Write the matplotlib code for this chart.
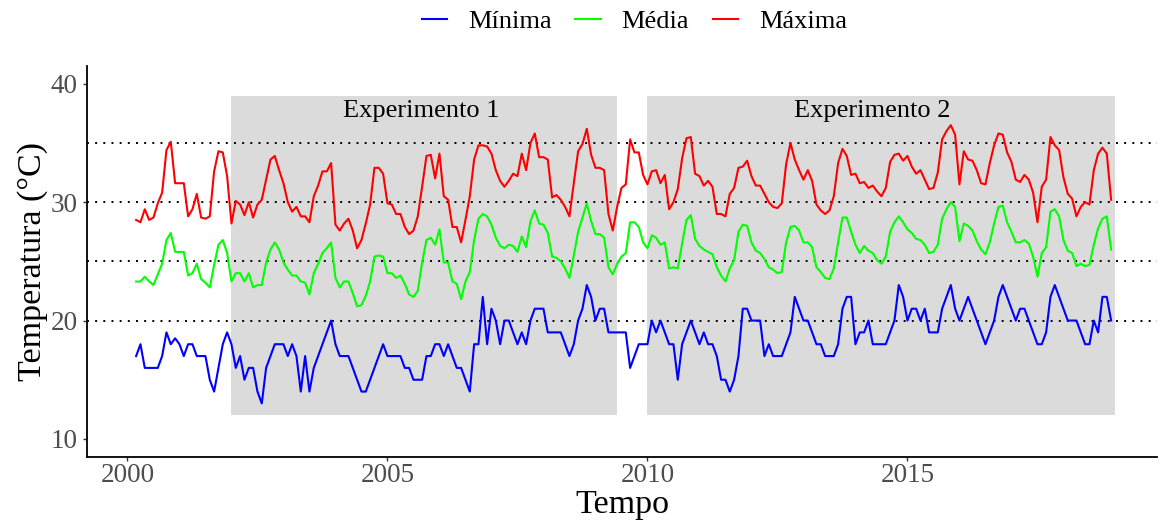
import pandas as pd
import matplotlib
matplotlib.use("Agg")
import matplotlib.pyplot as plt
from matplotlib.patches import Rectangle

# Monthly series, March 2000 to December 2018
datas = pd.date_range("2000-03-01", "2018-12-01", freq="MS")

minima = [
    17, 18, 16, 16, 16, 16, 17, 19, 18, 18.5, 18, 17, 18, 18, 17, 17, 17, 15, 14, 16,
    18, 19, 18, 16, 17, 15, 16, 16, 14, 13, 16, 17, 18, 18, 18, 17, 18, 17, 14,
    17, 14, 16, 17, 18, 19, 20, 18, 17, 17, 17, 16, 15, 14, 14, 15, 16, 17, 18, 17,
    17, 17, 17, 16, 16, 15, 15, 15, 17, 17, 18, 18, 17, 18, 17, 16, 16, 15, 14,
    18, 18, 22, 18, 21, 20, 18, 20, 20, 19, 18, 19, 18, 20, 21, 21, 21, 19, 19, 19,
    19, 18, 17, 18, 20, 21, 23, 22, 20, 21, 21, 19, 19, 19, 19, 19, 16, 17, 18,
    18, 18, 20, 19, 20, 19, 18, 18, 15, 18, 19, 20, 19, 18, 19, 18, 18, 17, 15, 15,
    14, 15, 17, 21, 21, 20, 20, 20, 17, 18, 17, 17, 17, 18, 19, 22, 21,
    20, 20, 19, 18, 18, 17, 17, 17, 18, 21, 22, 22, 18, 19, 19, 20, 18, 18, 18, 18,
    19, 20, 23, 22, 20, 21, 21, 20, 21, 19, 19, 19, 21, 22, 23, 21, 20, 21, 22,
    21, 20, 19, 18, 19, 20, 22, 23, 22, 21, 20, 21, 21, 20, 19, 18, 18, 19, 22, 23,
    22, 21, 20, 20, 20, 19, 18, 18, 20, 19, 22, 22, 20,
]

media = [
    23.3, 23.3, 23.7, 23.3, 23.0, 23.9, 24.8, 26.8, 27.4, 25.8, 25.8, 25.8, 23.8, 24.0,
    24.8, 23.5, 23.2, 22.8, 24.7, 26.4, 26.8, 25.7, 23.3, 24.0, 24.0, 23.3, 24.0, 22.8,
    23.0, 23.0, 24.9, 26.0, 26.6, 26.0, 24.9, 24.3, 23.8, 23.8, 23.3,
    23.2, 22.2, 24.0, 24.8, 25.7, 26.1, 26.6, 23.6, 22.8, 23.3, 23.3, 22.3, 21.2, 21.3,
    22.1, 23.3, 25.4, 25.5, 25.4, 24.0, 24.0, 23.6, 23.8, 23.1, 22.2, 22.0, 22.5, 24.9,
    26.8, 27.0, 26.4, 27.7, 24.9, 24.9, 23.3, 23.1, 21.8, 23.3, 24.1,
    26.8, 28.6, 29.0, 28.8, 28.1, 27.0, 26.3, 26.1, 26.4, 26.3, 25.8, 27.1, 26.2, 28.4,
    29.3, 28.2, 28.1, 27.4, 25.4, 25.3, 25.0, 24.4, 23.6, 25.5, 27.5, 28.7, 29.9, 28.4,
    27.3, 27.3, 27.0, 24.5, 23.9, 24.8, 25.4, 25.7, 28.3, 28.3, 27.9,
    26.6, 26.1, 27.2, 27.0, 26.4, 26.6, 24.4, 24.5, 24.4, 26.5, 28.5, 28.9, 26.9, 26.3,
    26.0, 25.8, 25.6, 24.5, 23.8, 23.3, 24.4, 25.1, 27.5, 28.1, 28.0, 26.6, 25.9, 25.7,
    25.2, 24.5, 24.3, 24.0, 24.1, 26.6, 27.9, 28.0, 27.6,
    26.6, 26.6, 26.2, 24.5, 24.1, 23.6, 23.5, 24.4, 26.6, 28.7, 28.7, 27.5, 26.4, 25.7,
    26.3, 25.9, 25.7, 25.1, 24.8, 25.4, 27.5, 28.3, 28.8, 28.3, 27.7, 27.4, 26.9, 26.8,
    26.4, 25.7, 25.8, 26.4, 28.6, 29.4, 30.0, 29.6, 26.7, 28.2, 28.0,
    27.6, 26.7, 26.0, 25.6, 26.6, 28.2, 29.6, 29.7, 28.3, 27.5, 26.6, 26.6, 26.8, 26.5,
    25.4, 23.7, 25.7, 26.2, 29.2, 29.4, 28.8, 26.8, 25.9, 25.7, 24.6, 24.8, 24.6, 24.7,
    26.4, 27.8, 28.6, 28.8, 26.0,
]

maxima = [
    28.5, 28.3, 29.4, 28.5, 28.7, 29.9, 30.8, 34.4, 35.1, 31.6, 31.6, 31.6, 28.8, 29.4,
    30.7, 28.7, 28.6, 28.8, 32.6, 34.3, 34.2, 32.2, 28.2, 30.1, 29.8, 28.9, 30.0, 28.7,
    29.8, 30.2, 31.9, 33.6, 33.9, 32.7, 31.6, 30.0, 29.2, 29.6, 28.8,
    28.8, 28.3, 30.5, 31.4, 32.6, 32.6, 33.3, 28.1, 27.6, 28.2, 28.6, 27.6, 26.1, 26.8,
    28.2, 29.8, 32.9, 32.9, 32.4, 29.9, 29.8, 29.0, 29.0, 27.9, 27.3, 27.6, 28.8, 31.3,
    33.9, 34.0, 32.0, 34.1, 30.5, 30.2, 27.9, 27.9, 26.6, 28.5, 30.5,
    33.6, 34.8, 34.8, 34.7, 34.1, 32.7, 31.8, 31.3, 31.8, 32.4, 32.2, 34.1, 32.7, 35.0,
    35.8, 33.8, 33.8, 33.6, 30.4, 30.6, 30.2, 29.6, 28.8, 31.6, 34.3, 34.9, 36.2, 34.0,
    32.9, 32.9, 32.7, 29.0, 27.6, 29.6, 31.2, 31.5, 35.3, 34.2, 34.2,
    32.3, 31.5, 32.6, 32.7, 31.6, 32.3, 29.4, 30.0, 31.1, 33.7, 35.4, 35.5, 32.4, 32.2,
    31.4, 31.8, 31.3, 29.0, 29.0, 28.8, 30.7, 31.2, 32.9, 33.0, 33.5, 32.2, 31.4, 31.4,
    30.7, 30.0, 29.6, 29.5, 29.9, 33.2, 35.0, 33.6, 32.7,
    31.9, 32.7, 31.8, 29.8, 29.3, 29.0, 29.3, 30.5, 33.3, 34.5, 33.9, 32.3, 32.4, 31.6,
    31.7, 31.2, 31.4, 30.9, 30.5, 31.2, 33.4, 34.0, 34.1, 33.5, 33.9, 33.0, 32.4, 32.7,
    31.9, 31.1, 31.2, 32.5, 35.3, 36.0, 36.5, 35.7, 31.5, 34.3, 33.6,
    33.5, 32.7, 31.6, 31.5, 33.3, 34.8, 35.8, 35.7, 34.2, 33.4, 31.9, 31.7, 32.3, 31.9,
    30.8, 28.3, 31.3, 31.9, 35.5, 34.8, 34.4, 32.1, 30.7, 30.3, 28.8, 29.6, 30.0, 29.8,
    32.7, 34.1, 34.6, 34.1, 30.2,
]

nomes_series = ["Mínima", "Média", "Máxima"]
cores_series = ["#0000FF", "#00FF00", "#FF0000"]

linhas_ref = [20, 25, 30, 35]

experimentos = ["Experimento 1", "Experimento 2"]
exp_inicio = [2002.0, 2010.0]
exp_fim = [2009.42, 2019.0]
exp_temp_min = 12
exp_temp_max = 39

anos_ticks = [2000, 2005, 2010, 2015]
temp_ticks = [10, 20, 30, 40]

plt.rcParams["font.family"] = ["Liberation Serif", "DejaVu Serif"]

W, H = 1162, 526
fig = plt.figure(figsize=(W / 100, H / 100), dpi=100)
ax = fig.add_axes([87 / W, (H - 456.7) / H, 1070 / W, 390.7 / H])

# decimal year for each month
tempo = datas.year + (datas.month - 1) / 12.0

for x0, x1 in zip(exp_inicio, exp_fim):
    ax.add_patch(Rectangle((x0, exp_temp_min), x1 - x0, exp_temp_max - exp_temp_min,
                           facecolor="#DBDBDB", edgecolor="none", zorder=0))

for y in linhas_ref:
    ax.axhline(y, color="black", lw=1.4, ls=(0, (1, 3.2)), zorder=1)

for valores, nome, cor in zip([minima, media, maxima], nomes_series, cores_series):
    ax.plot(tempo, valores, color=cor, lw=1.5, label=nome, zorder=2)

for rotulo, xpos in zip(experimentos, [2005.65, 2014.33]):
    ax.text(xpos, 37.7, rotulo, ha="center", va="center", fontsize=19, color="black")

ax.set_xlim(1999.222, 1999.222 + 1070 / 52.0)
ax.set_ylim(8.5, 41.5)
ax.set_xticks(anos_ticks)
ax.set_yticks(temp_ticks)
ax.set_xticklabels([str(a) for a in anos_ticks])
ax.set_yticklabels([str(t) for t in temp_ticks])

for side in ["top", "right"]:
    ax.spines[side].set_visible(False)
for side in ["left", "bottom"]:
    ax.spines[side].set_linewidth(1.3)
    ax.spines[side].set_color("black")

ax.tick_params(axis="both", length=3.2, width=1.0, color="#333333",
               labelcolor="#4D4D4D", labelsize=19.5)
ax.tick_params(axis="x", pad=1.5)
ax.tick_params(axis="y", pad=3.5)

ax.set_xlabel("Tempo", fontsize=24.5, labelpad=1)
ax.set_ylabel("Temperatura (°C)", fontsize=24.5, labelpad=2)

fig.legend(loc="center", bbox_to_anchor=(634.5 / W, 1 - 21 / H), ncol=3,
           frameon=False, fontsize=19, handlelength=0.95, handletextpad=0.8,
           columnspacing=0.9)

fig.savefig("out.png", dpi=100)
